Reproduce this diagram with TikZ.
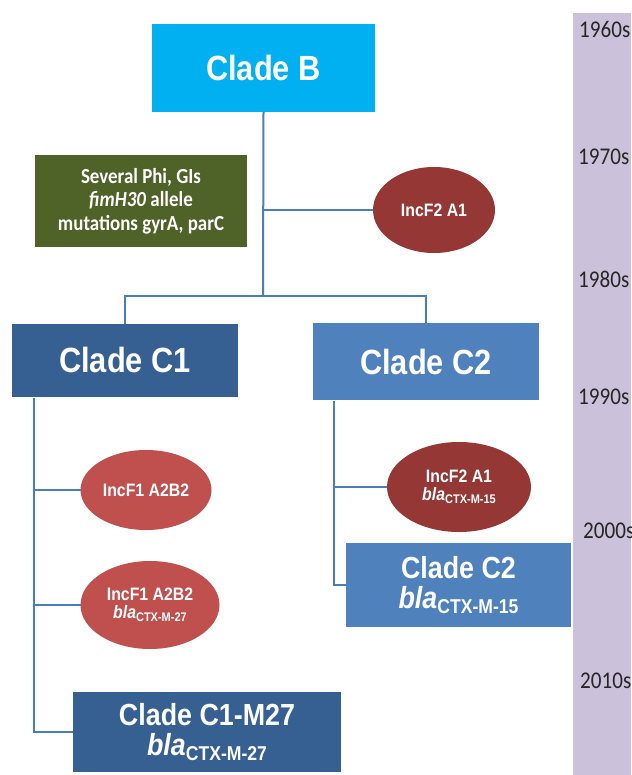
\documentclass[tikz,border=0pt]{standalone}
\usepackage{fontspec}
\setmainfont[FakeStretch=0.88]{Liberation Sans}
\newfontfamily\calib[FakeStretch=0.88]{Carlito}
\usetikzlibrary{shapes.geometric}
\definecolor{cladeBc}{HTML}{00B0F0}
\definecolor{greenc}{HTML}{4F6228}
\definecolor{darkred}{HTML}{953735}
\definecolor{lightred}{HTML}{C0504D}
\definecolor{cOne}{HTML}{376092}
\definecolor{cTwo}{HTML}{4F81BD}
\definecolor{linec}{HTML}{4A7EBB}
\definecolor{barc}{HTML}{CCC1DA}
\newcommand{\blatxt}[4]{{\fontsize{#1}{#1}\selectfont\bfseries\itshape bla}\raisebox{-#3}{\fontsize{#2}{#2}\selectfont\bfseries\upshape #4}}
\begin{document}
\begin{tikzpicture}[x=1pt,y=-1pt,
  box/.style={rectangle,inner sep=0pt,outer sep=0pt,text=white,align=center,font=\bfseries},
  ell/.style={ellipse,inner sep=0pt,outer sep=0pt,text=white,align=center,font=\bfseries\fontsize{18}{20}\selectfont},
  conn/.style={draw=linec,line width=2pt},
  yearlbl/.style={anchor=west,inner sep=0pt,font=\calib\fontsize{24}{24}\selectfont,text=black!85}]
\useasboundingbox (0,0) rectangle (631,775);
\fill[barc] (573,13) rectangle (631,775);
\node[yearlbl] (y60) at (579,29) {1960s};
\node[yearlbl] (y70) at (578,157) {1970s};
\node[yearlbl] (y80) at (578,279) {1980s};
\node[yearlbl] (y90) at (578,397) {1990s};
\node[yearlbl] (y00) at (583,531) {2000s};
\node[yearlbl] (y10) at (580,681) {2010s};

\node[box,fill=cladeBc,minimum width=223pt,minimum height=88pt,font=\bfseries\fontsize{35}{35}\selectfont] (B) at (263.5,68) {Clade B};
\node[box,fill=greenc,minimum width=212pt,minimum height=92pt,font=\calib\bfseries\fontsize{21.5}{23.5}\selectfont] (G) at (141,201) {Several Phi, GIs\\\textit{fimH30} allele\\mutations gyrA, parC};
\node[ell,fill=darkred,minimum width=122pt,minimum height=86pt] (A1) at (434,210) {IncF2 A1};
\node[box,fill=cOne,minimum width=226pt,minimum height=73pt,font=\bfseries\fontsize{35}{35}\selectfont] (C1) at (125,360) {Clade C1};
\node[box,fill=cTwo,minimum width=226pt,minimum height=77pt,font=\bfseries\fontsize{35}{35}\selectfont] (C2) at (426,361.5) {Clade C2};

\node[ell,fill=lightred,minimum width=131pt,minimum height=80pt] (E1) at (146,490) {IncF1 A2B2};
\node[ell,fill=lightred,minimum width=139pt,minimum height=88pt] (E2) at (150,605) {IncF1 A2B2\\[-2pt]\blatxt{18}{12.5}{3pt}{CTX-M-27}};
\node[ell,fill=darkred,minimum width=144pt,minimum height=90pt] (E3) at (459,487) {IncF2 A1\\[-2pt]\blatxt{18}{12.5}{3pt}{CTX-M-15}};

\node[box,fill=cOne,minimum width=268pt,minimum height=80pt,font=\bfseries\fontsize{30.5}{30}\selectfont] (M27) at (207,732) {Clade C1-M27\\\blatxt{30.5}{20}{5pt}{CTX-M-27}};
\node[box,fill=cTwo,minimum width=225pt,minimum height=84pt,font=\bfseries\fontsize{30.5}{30}\selectfont] (C2b) at (458.5,585) {Clade C2\\\blatxt{30.5}{20}{5pt}{CTX-M-15}};

\coordinate (J) at (263,296);
\draw[conn] (B.south) -- (J);
\draw[conn] (C1.north) |- (J) -| (C2.north);
\draw[conn] (A1.west) -- (A1.west -| B.south);
\coordinate (c1t) at (33.5,398);
\coordinate (c2t) at (334,401);
\draw[conn] (c1t) |- (M27.west);
\draw[conn] (E1.west) -- (E1.west -| c1t);
\draw[conn] (E2.west) -- (E2.west -| c1t);
\draw[conn] (c2t) |- (C2b.west);
\draw[conn] (E3.west) -- (E3.west -| c2t);
\end{tikzpicture}
\end{document}
